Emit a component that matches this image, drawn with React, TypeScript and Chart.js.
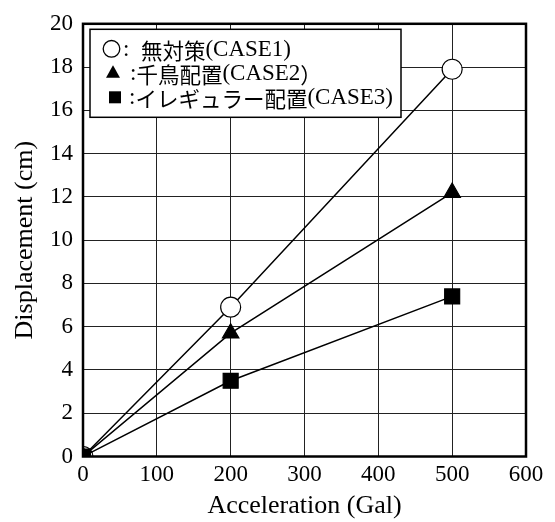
import React, { useEffect, useRef } from "react";
import { Chart, registerables } from "chart.js";

Chart.register(...registerables);

const accel = [0, 200, 500];
const case1 = [0, 6.9, 17.9];
const case2 = [0, 5.7, 12.2];
const case3 = [0, 3.5, 7.4];
const legendLabels = [":  無対策(CASE1)", ":千鳥配置(CASE2）", ":イレギュラー配置(CASE3)"];
const xTitle = "Acceleration (Gal)";
const yTitle = "Displacement (cm)";

const SERIF = "'Liberation Serif', 'Times New Roman', serif";
const CJK = "'Noto Sans CJK JP', sans-serif";

const isCJK = (ch: string) => /[\u3000-\u30ff\u4e00-\u9fff\uff00-\uffef]/.test(ch);

function drawMixed(ctx: CanvasRenderingContext2D, text: string, x: number, y: number) {
  const runs: { s: string; cjk: boolean }[] = [];
  for (const ch of text) {
    const c = isCJK(ch);
    if (runs.length && runs[runs.length - 1].cjk === c) runs[runs.length - 1].s += ch;
    else runs.push({ s: ch, cjk: c });
  }
  let cx = x;
  for (const r of runs) {
    ctx.font = r.cjk ? `21.5px ${CJK}` : `23px ${SERIF}`;
    ctx.fillText(r.s, cx, r.cjk ? y + 1 : y);
    cx += ctx.measureText(r.s).width;
  }
}

const framePlugin = {
  id: "frame",
  afterDraw(chart: any) {
    const { ctx, chartArea } = chart;
    const { left, top, right, bottom } = chartArea;
    ctx.save();
    // legend box
    const bx = left + 7, by = top + 5.5, bw = 311, bh = 88;
    ctx.fillStyle = "#fff";
    ctx.fillRect(bx, by, bw, bh);
    ctx.strokeStyle = "#000";
    ctx.lineWidth = 1.5;
    ctx.strokeRect(bx, by, bw, bh);
    ctx.textBaseline = "middle";
    ctx.textAlign = "left";
    ctx.fillStyle = "#000";
    const y1 = by + 19.5, y2 = by + 44, y3 = by + 68;
    // line 1: circle
    ctx.beginPath();
    ctx.arc(bx + 21.5, y1, 8.3, 0, Math.PI * 2);
    ctx.lineWidth = 1.3;
    ctx.stroke();
    drawMixed(ctx, legendLabels[0], bx + 33, y1 + 1);
    // line 2: triangle
    ctx.beginPath();
    ctx.moveTo(bx + 23, y2 - 8);
    ctx.lineTo(bx + 30, y2 + 4.5);
    ctx.lineTo(bx + 16, y2 + 4.5);
    ctx.closePath();
    ctx.fill();
    drawMixed(ctx, legendLabels[1], bx + 40, y2 + 1);
    // line 3: square
    ctx.fillRect(bx + 19, y3 - 6, 12, 12);
    drawMixed(ctx, legendLabels[2], bx + 39, y3 + 1);
    // plot frame
    ctx.lineWidth = 2.5;
    ctx.strokeRect(left, top, right - left, bottom - top);
    ctx.restore();
  },
};

export default function App() {
  const ref = useRef<HTMLCanvasElement>(null);
  useEffect(() => {
    document.body.style.margin = "0";
    const ds = (label: string, data: number[], style: string, bg: string, r: number, order: number) => ({
      label,
      data: accel.map((x, i) => ({ x, y: data[i] })),
      borderColor: "#000",
      borderWidth: 1.5,
      pointStyle: style,
      pointRadius: r,
      pointBackgroundColor: bg,
      pointBorderColor: "#000",
      pointBorderWidth: 1.2,
      order,
    });
    const chart = new Chart(ref.current!, {
      type: "line",
      data: {
        datasets: [
          ds("CASE1", case1, "circle", "#fff", 10, 2),
          ds("CASE2", case2, "triangle", "#000", 9.5, 1),
          ds("CASE3", case3, "rect", "#000", 10.6, 0),
        ] as any,
      },
      options: {
        animation: false,
        responsive: false,
        layout: { padding: { left: 0, right: 29, top: 14.5, bottom: 0 } },
        plugins: { legend: { display: false }, tooltip: { enabled: false } },
        scales: {
          x: {
            type: "linear",
            min: 0,
            max: 600,
            ticks: { stepSize: 100, color: "#000", font: { family: SERIF, size: 23 }, padding: 5 },
            grid: { color: "#222", lineWidth: 1, drawTicks: false },
            border: { display: false },
            title: { display: true, text: xTitle, color: "#000", font: { family: SERIF, size: 26 }, padding: { top: 0, bottom: 0 } },
            afterFit: (s: any) => { s.height = 65.5; },
          },
          y: {
            type: "linear",
            min: 0,
            max: 20,
            ticks: { stepSize: 2, color: "#000", font: { family: SERIF, size: 23 }, padding: 10 },
            grid: { color: "#222", lineWidth: 1, drawTicks: false },
            border: { display: false },
            title: { display: true, text: yTitle, color: "#000", font: { family: SERIF, size: 26 }, padding: { top: 10, bottom: 0 } },
            afterFit: (s: any) => { s.width = 83; },
          },
        },
      } as any,
      plugins: [framePlugin],
    });
    return () => chart.destroy();
  }, []);
  return (
    <div style={{ width: 555, height: 522 }}>
      <canvas ref={ref} width={555} height={522} />
    </div>
  );
}
